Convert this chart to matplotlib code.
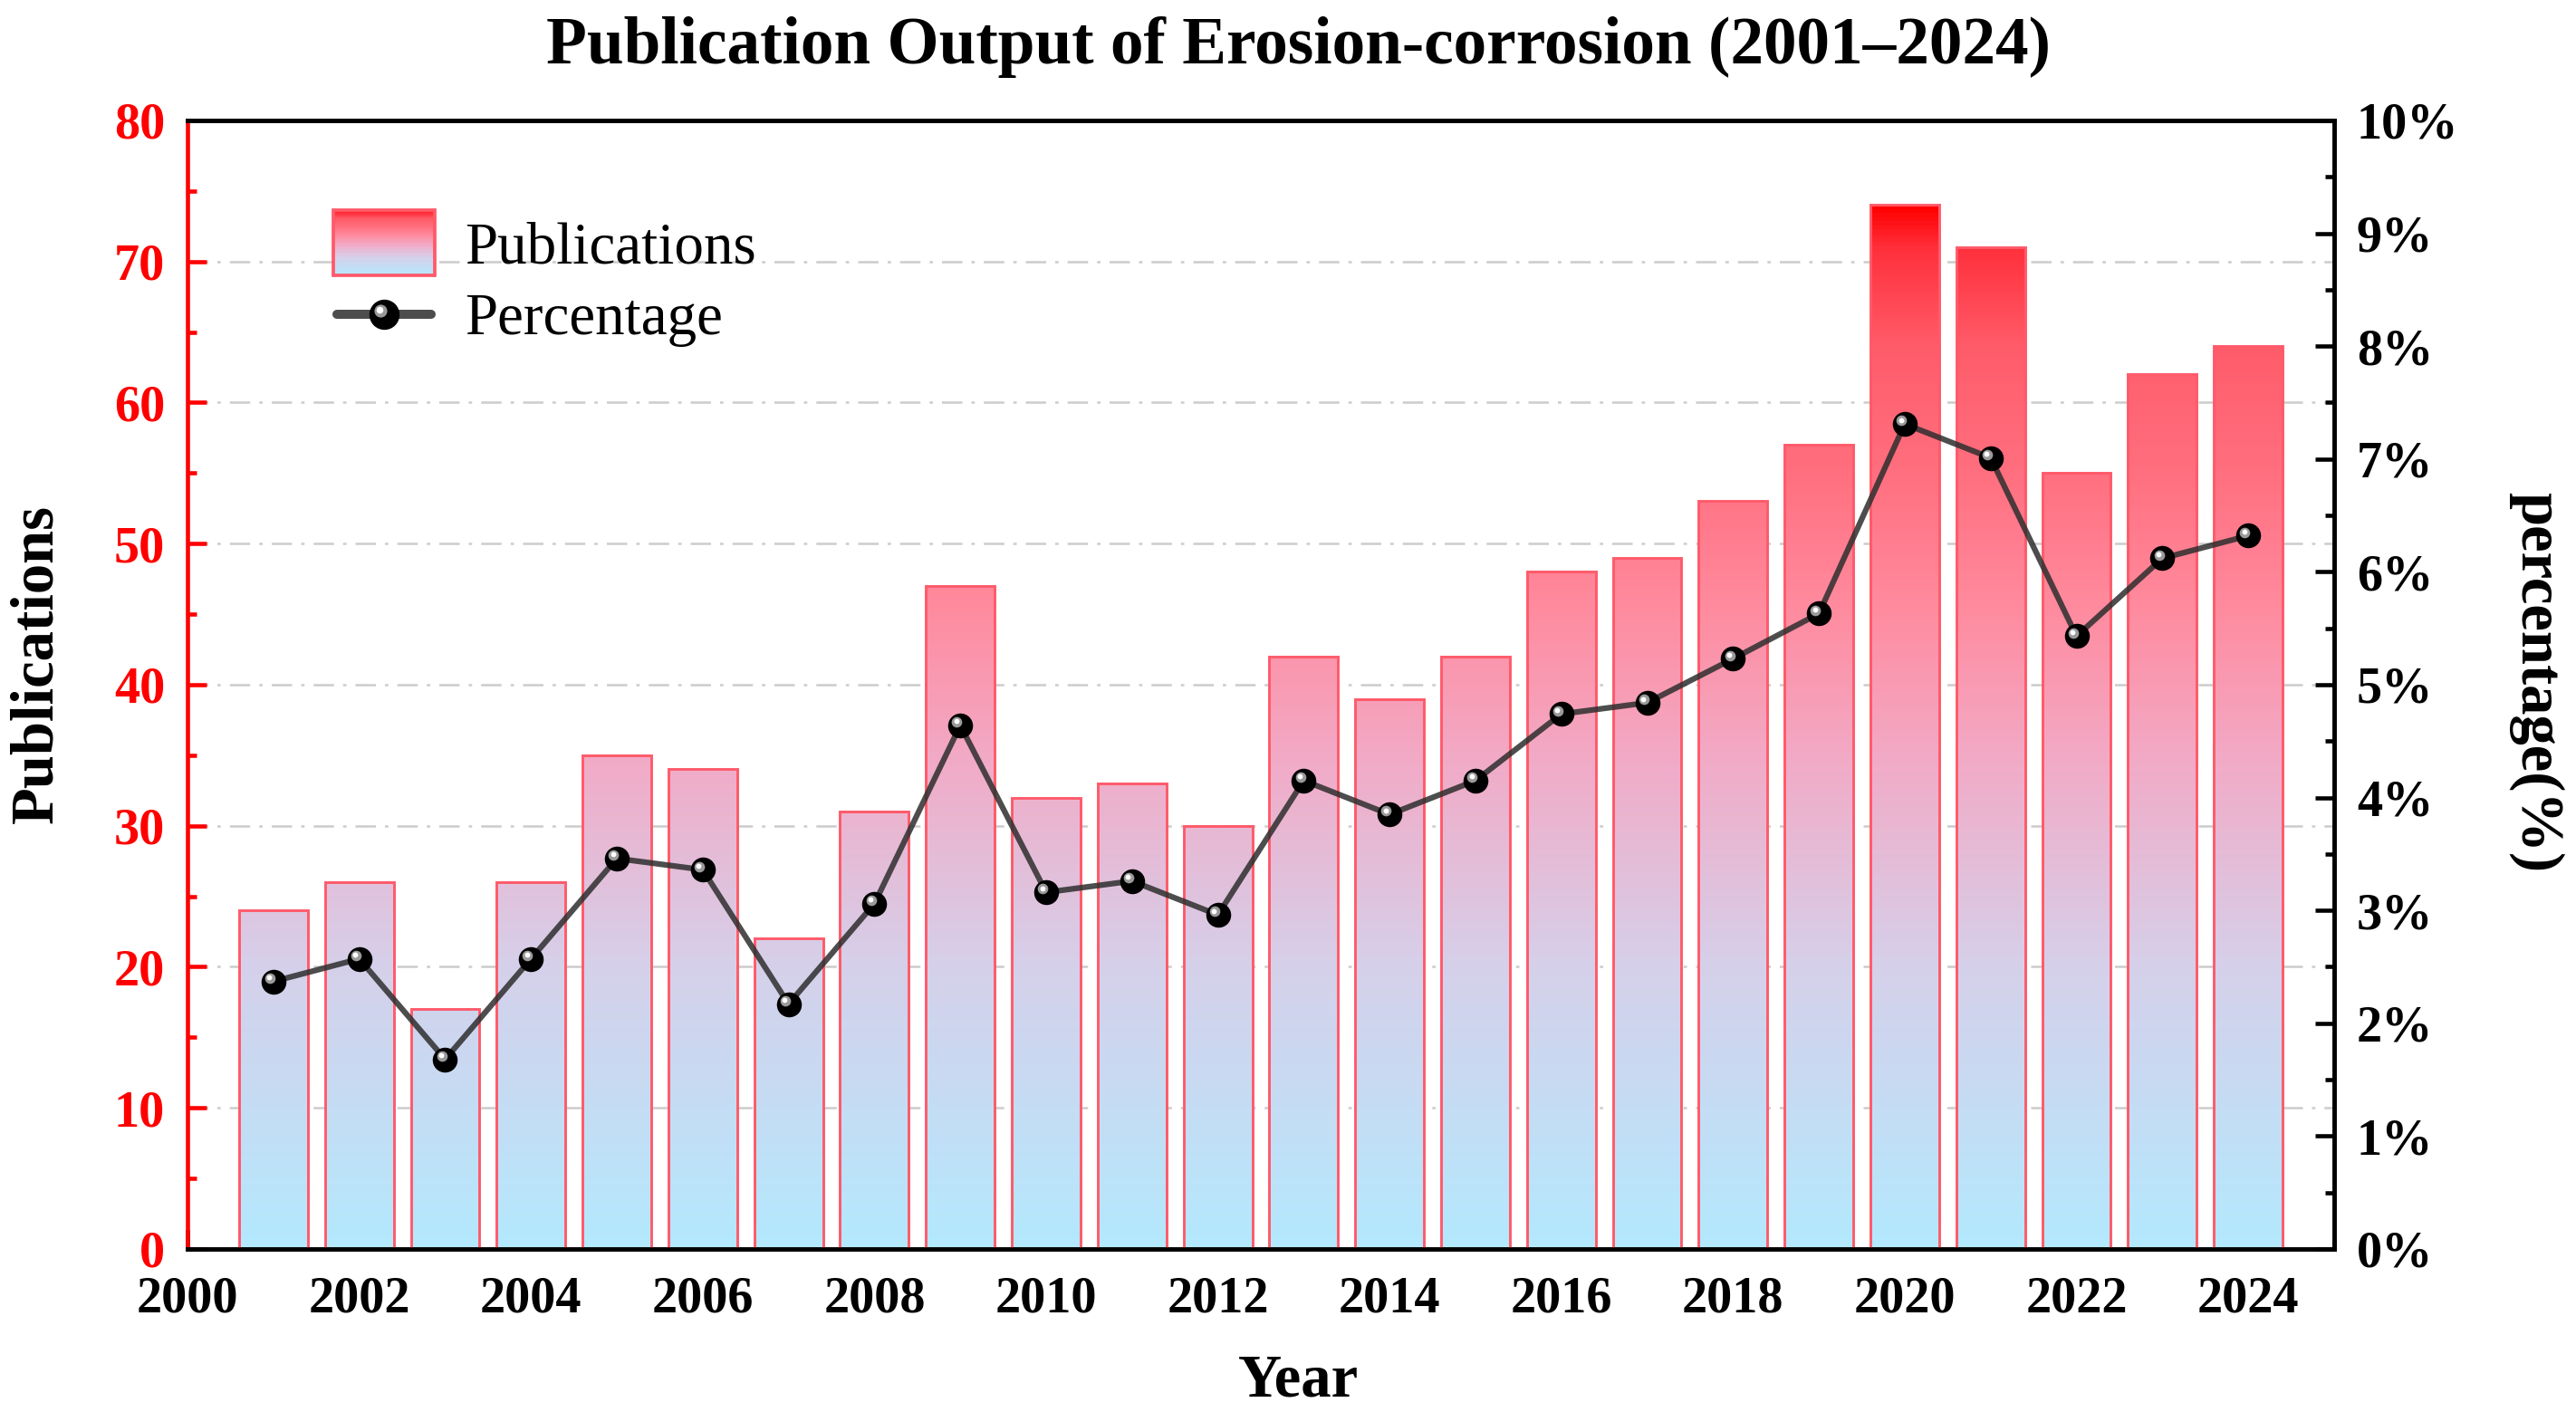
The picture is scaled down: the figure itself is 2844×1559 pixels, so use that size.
import matplotlib
matplotlib.use('Agg')
import matplotlib.pyplot as plt
import numpy as np
from matplotlib.colors import LinearSegmentedColormap
from matplotlib.patches import Rectangle, Patch
from matplotlib.lines import Line2D
from matplotlib.legend_handler import HandlerBase
from matplotlib.ticker import MultipleLocator, FuncFormatter
from matplotlib.transforms import offset_copy

plt.rcParams['font.family'] = ['Liberation Serif', 'DejaVu Serif']
plt.rcParams['font.weight'] = 'bold'

# data
years = [2001, 2002, 2003, 2004, 2005, 2006, 2007, 2008, 2009, 2010, 2011, 2012,
         2013, 2014, 2015, 2016, 2017, 2018, 2019, 2020, 2021, 2022, 2023, 2024]
pubs = [24, 26, 17, 26, 35, 34, 22, 31, 47, 32, 33, 30,
        42, 39, 42, 48, 49, 53, 57, 74, 71, 55, 62, 64]
pct = [2.37, 2.57, 1.68, 2.57, 3.46, 3.36, 2.17, 3.06, 4.64, 3.16, 3.26, 2.96,
       4.15, 3.85, 4.15, 4.74, 4.84, 5.23, 5.63, 7.31, 7.01, 5.43, 6.12, 6.32]

EDGE = '#ff5a6a'
LINE = '#2e2e2e'

# blue -> pink -> red, by bar height
cmap = LinearSegmentedColormap.from_list('pubgrad', [
    (0.00, '#b3e9fe'),
    (0.27, '#d6d0ea'),
    (0.47, '#f2aac6'),
    (0.61, '#ff8ca0'),
    (0.74, '#ff7080'),
    (0.865, '#ff5c6a'),
    (0.96, '#ff303c'),
    (1.00, '#ff0000'),
])


class GradientHandler(HandlerBase):
    def create_artists(self, legend, orig_handle, xdescent, ydescent,
                       width, height, fontsize, trans):
        arts = []
        n = 60
        h = 1.12 * fontsize
        x0 = -xdescent
        y0 = -ydescent + height / 2 - h / 2
        for i in range(n):
            arts.append(Rectangle((x0, y0 + h * i / n), width, h / n * 1.05,
                                  facecolor=cmap(i / (n - 1)), edgecolor='none',
                                  transform=trans))
        arts.append(Rectangle((x0, y0), width, h, facecolor='none',
                              edgecolor=EDGE, lw=0.9, transform=trans))
        return arts


class SphereHandler(HandlerBase):
    def create_artists(self, legend, orig_handle, xdescent, ydescent,
                       width, height, fontsize, trans):
        yc = -ydescent + height / 2
        xc = -xdescent + width / 2
        line = Line2D([-xdescent + 1, -xdescent + width - 1], [yc, yc], color=LINE,
                      lw=2.4, solid_capstyle='round', alpha=0.85, transform=trans)
        ball = Line2D([xc], [yc], marker='o', ms=8, color='black', mew=0,
                      transform=trans)
        hl = Line2D([xc - 1.0], [yc + 1.0], marker='o', ms=3.4, color='#9a9a9a',
                    mew=0, transform=trans)
        hl2 = Line2D([xc - 1.2], [yc + 1.2], marker='o', ms=1.8, color='white',
                     mew=0, transform=trans)
        return [line, ball, hl, hl2]


fig = plt.figure(figsize=(9.48, 5.1967), dpi=300)
ax = fig.add_axes([0.0728, 0.1155, 0.8333, 0.7992])
ax2 = ax.twinx()

# bars with a vertical gradient clipped to each bar
grad = np.linspace(0, 1, 256).reshape(-1, 1)
top = max(pubs)
bars = ax.bar(years, pubs, width=0.8, facecolor='none', edgecolor=EDGE,
              linewidth=0.7, zorder=3)
for b in bars:
    x0 = b.get_x()
    im = ax.imshow(grad, extent=[x0, x0 + b.get_width(), 0, top], origin='lower',
                   aspect='auto', cmap=cmap, vmin=0, vmax=1, zorder=2)
    im.set_clip_path(b)

ax.set_xlim(2000, 2025)
ax.set_ylim(0, 80)
ax.set_axisbelow(True)
ax.yaxis.grid(True, color='#cccccc', linewidth=0.6, linestyle=(0, (9, 4, 1.5, 4)))

# percentage line with shaded spheres
ax2.plot(years, pct, color=LINE, lw=1.5, alpha=0.85, zorder=3)
ax2.plot(years, pct, 'o', ms=6.6, color='black', mew=0, zorder=4)
hl_tr = offset_copy(ax2.transData, fig=fig, x=-0.9, y=0.9, units='points')
ax2.plot(years, pct, 'o', ms=2.8, color='#9a9a9a', mew=0, transform=hl_tr, zorder=5)
hl_tr2 = offset_copy(ax2.transData, fig=fig, x=-1.05, y=1.05, units='points')
ax2.plot(years, pct, 'o', ms=1.4, color='white', mew=0, transform=hl_tr2, zorder=6)
ax2.set_ylim(0, 10)

# ticks and spines
ax.xaxis.set_major_locator(MultipleLocator(2))
ax.xaxis.set_minor_locator(MultipleLocator(1))
ax.yaxis.set_major_locator(MultipleLocator(10))
ax.yaxis.set_minor_locator(MultipleLocator(5))
ax2.yaxis.set_major_locator(MultipleLocator(1))
ax2.yaxis.set_minor_locator(MultipleLocator(0.5))
ax2.yaxis.set_major_formatter(FuncFormatter(lambda v, p: '%d%%' % v))

ax.tick_params(axis='x', which='both', direction='in', top=False, colors='black',
               labelsize=13.5, pad=7)
ax.tick_params(axis='y', which='both', direction='in', right=False, colors='red',
               labelsize=13.5, pad=6)
ax2.tick_params(axis='y', which='both', direction='in', left=False, right=True,
                colors='black', labelsize=13.5, pad=6)
for a in (ax, ax2):
    a.tick_params(which='major', length=5, width=1.1)
    a.tick_params(which='minor', length=2.4, width=1.1)
    for s in a.spines.values():
        s.set_linewidth(1.1)
ax.spines['left'].set_color('red')
ax2.spines['left'].set_visible(False)

# texts
fig.text(0.504, 1 - 70 / 1559, 'Publication Output of Erosion-corrosion (2001\u20132024)',
         ha='center', va='baseline', fontsize=17.6, fontweight='bold')
fig.text(0.504, 0.0115, 'Year', ha='center', va='baseline', fontsize=16,
         fontweight='bold')
fig.text(0.0144, 0.53, 'Publications', ha='center', va='center', rotation=90,
         fontsize=16, fontweight='bold')
fig.text(0.9845, 0.517, 'percentage(%)', ha='center', va='center', rotation=270,
         fontsize=16, fontweight='bold')

# legend
h_bar = Patch()
h_line = Line2D([], [])
ax2.legend([h_bar, h_line], ['Publications', 'Percentage'],
           handler_map={Patch: GradientHandler(), Line2D: SphereHandler()},
           loc='upper left', bbox_to_anchor=(368 / 2844, 1 - 239 / 1559),
           bbox_transform=fig.transFigure, frameon=False, borderpad=0,
           borderaxespad=0, handlelength=1.73, handleheight=1.0,
           handletextpad=0.5, labelspacing=0.21,
           prop={'size': 15.6, 'weight': 'normal'})

fig.savefig('out.png', dpi=300)
